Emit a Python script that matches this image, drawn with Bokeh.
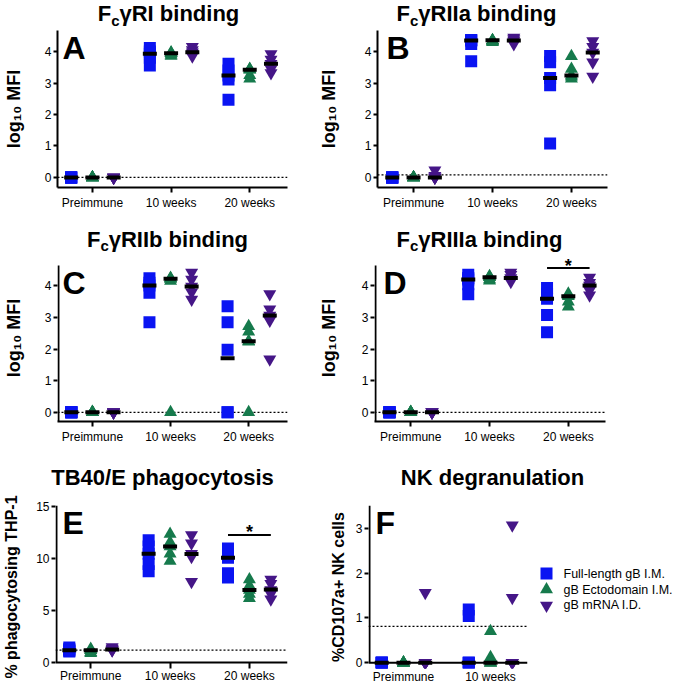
from bokeh.plotting import figure
from bokeh.layouts import row, column
from bokeh.models import Range1d, FixedTicker, Span, Label
from bokeh.core.properties import value
from bokeh.embed import file_html
from bokeh.resources import INLINE

FONT = "Liberation Sans"

timepoints = ["Preimmune", "10 weeks", "20 weeks"]
nk_timepoints = ["Preimmune", "10 weeks"]
groups = ["Full-length gB I.M.", "gB Ectodomain I.M.", "gB mRNA I.D."]
colors = ["#0a14f2", "#167a4c", "#451687"]
markers = ["square", "triangle", "inverted_triangle"]
marker_sizes = [12, 13, 13]

# A: FcγRI binding (log10 MFI), one list per time point
fcgr1_full = [[0, 0, 0, 0, 0], [4.11, 4.0, 3.93, 3.8, 3.56], [3.61, 3.4, 3.24, 3.11, 2.47]]
fcgr1_ecto = [[0, 0, 0, 0, 0], [3.97, 3.95, 3.95, 3.9, 3.86], [3.45, 3.43, 3.42, 3.25, 3.14]]
fcgr1_mrna = [[0, 0, 0, 0, 0], [4.15, 4.05, 3.98, 3.92, 3.85], [3.92, 3.75, 3.61, 3.45, 3.32]]
fcgr1_medians = [[0, 3.93, 3.24], [0, 3.95, 3.42], [0, 3.98, 3.61]]
fcgr1_cutoff = 0.0

# B: FcγRIIa binding
fcgr2a_full = [[0, 0, 0, 0, 0], [4.37, 4.36, 4.35, 4.24, 3.69], [3.86, 3.66, 3.16, 2.93, 1.08]]
fcgr2a_ecto = [[0, 0, 0, 0, 0], [4.36, 4.35, 4.35, 4.33, 4.3], [3.85, 3.45, 3.24, 3.2, 3.14]]
fcgr2a_mrna = [[0.23, 0.05, 0, 0, 0], [4.45, 4.4, 4.35, 4.3, 4.24], [4.34, 4.15, 3.97, 3.66, 3.21]]
fcgr2a_medians = [[0, 4.35, 3.16], [0, 4.36, 3.24], [0, 4.35, 3.97]]
fcgr2a_cutoff = 0.08

# C: FcγRIIb binding
fcgr2b_full = [[0, 0, 0, 0, 0], [4.24, 4.1, 4.01, 3.78, 2.85], [3.35, 2.85, 1.98, 0, 0]]
fcgr2b_ecto = [[0, 0, 0, 0, 0], [4.25, 4.22, 4.22, 4.15, 0], [2.72, 2.55, 2.25, 2.23, 0]]
fcgr2b_mrna = [[0, 0, 0, 0, 0], [4.42, 4.2, 3.98, 3.8, 3.57], [3.74, 3.26, 3.06, 2.9, 1.68]]
fcgr2b_medians = [[0, 4.01, 1.71], [0, 4.22, 2.25], [0, 3.98, 3.06]]
fcgr2b_cutoff = 0.0

# D: FcγRIIIa binding
fcgr3a_full = [[0, 0, 0, 0, 0], [4.35, 4.25, 4.2, 4.05, 3.73], [3.93, 3.75, 3.59, 3.08, 2.53]]
fcgr3a_ecto = [[0, 0, 0, 0, 0], [4.3, 4.28, 4.27, 4.2, 4.16], [3.75, 3.7, 3.67, 3.5, 3.34]]
fcgr3a_mrna = [[0, 0, 0, 0, 0], [4.42, 4.35, 4.25, 4.2, 4.13], [4.26, 4.1, 4.01, 3.85, 3.7]]
fcgr3a_medians = [[0, 4.2, 3.59], [0, 4.27, 3.67], [0, 4.25, 4.01]]
fcgr3a_cutoff = 0.0
fcgr3a_sig = (0, 2, 2, 4.56)  # group from, group to, time point index, bar height

# E: TB40/E phagocytosis (% phagocytosing THP-1)
phago_full = [[1.45, 1.3, 1.2, 1.15, 1.08], [11.8, 11.2, 10.5, 9.5, 8.8], [11.0, 10.4, 10.1, 8.6, 8.2]]
phago_ecto = [[1.3, 1.2, 1.2, 1.0, 0.9], [12.4, 11.6, 11.2, 10.5, 9.8], [8.0, 7.4, 7.0, 6.6, 6.2]]
phago_mrna = [[1.5, 1.35, 1.25, 1.22, 1.2], [12.3, 11.5, 10.5, 10.2, 7.8], [8.0, 7.6, 7.0, 6.6, 6.1]]
phago_medians = [[1.2, 10.5, 10.1], [1.2, 11.2, 7.0], [1.25, 10.47, 7.05]]
phago_cutoff = 1.2
phago_sig = (0, 2, 2, 12.3)

# F: NK degranulation (%CD107a+ NK cells)
nk_full = [[0, 0, 0, 0, 0], [1.19, 1.04, 0, 0, 0]]
nk_ecto = [[0, 0, 0, 0, 0], [0.7, 0.12, 0, 0, 0]]
nk_mrna = [[1.56, 0, 0, 0, 0], [3.07, 1.45, 0, 0, 0]]
nk_medians = [[0, 0], [0, 0], [0, 0]]
nk_cutoff = 0.81

BOLD_W = {' ': 0.278, '/': 0.278, '0': 0.556, '4': 0.556, 'B': 0.722, 'E': 0.667, 'F': 0.611,
          'I': 0.278, 'K': 0.722, 'N': 0.722, 'R': 0.722, 'T': 0.611, 'a': 0.556, 'b': 0.611,
          'c': 0.556, 'd': 0.611, 'e': 0.556, 'g': 0.611, 'h': 0.611, 'i': 0.278, 'l': 0.278,
          'n': 0.611, 'o': 0.611, 'p': 0.611, 'r': 0.389, 's': 0.556, 't': 0.333, 'u': 0.611,
          'y': 0.556, 'γ': 0.556}


def tw(s, size):
    return sum(BOLD_W.get(ch, 0.556) for ch in s) * size


def blank_fig(width, height):
    f = figure(width=width, height=height, x_range=Range1d(0, width), y_range=Range1d(height, 0),
               output_backend="svg", toolbar_location=None, min_border=0,
               x_axis_location=None, y_axis_location=None)
    f.title = None
    f.outline_line_color = None
    f.grid.visible = False
    f.background_fill_color = "white"
    f.border_fill_color = "white"
    return f


def title_fig(width, height, items):
    """items: (parts, centre_x, baseline_y); parts: (text, size, baseline shift)."""
    f = blank_fig(width, height)
    for parts, cx, base in items:
        total = sum(tw(t, s) for t, s, d in parts)
        cur = cx - total / 2
        for t, s, d in parts:
            f.add_layout(Label(x=cur, y=base + d - 0.35 * s, text=t, text_font=FONT,
                               text_font_style="bold", text_font_size=f"{s}px",
                               text_baseline="alphabetic", text_align="left",
                               text_color="black"))
            cur += tw(t, s)
    return f


def panel(cats, series, medians, cutoff, yr, yticks, ylabel, ylab_size, ylab_standoff, letter,
          width, height, borders, xr, offset, letter_dx, sig=None, y_line=None,
          zero_axis=False, xlab_standoff=3, xtick_out=5, xtick_in=0):
    left, right, top, bottom = borders
    p = figure(width=width, height=height, x_range=Range1d(*xr), y_range=Range1d(*yr),
               output_backend="svg", toolbar_location=None,
               min_border_left=left, min_border_right=right, min_border_top=top,
               min_border_bottom=bottom)
    p.title = None
    p.outline_line_color = None
    p.xgrid.visible = False
    p.ygrid.visible = False
    p.background_fill_color = "white"
    p.border_fill_color = "white"

    for ax in (p.xaxis[0], p.yaxis[0]):
        ax.axis_line_width = 2
        ax.axis_line_color = "black"
        ax.major_tick_line_width = 2
        ax.major_tick_line_color = "black"
        ax.minor_tick_line_color = None
        ax.major_tick_in = 0
        ax.major_label_text_font = FONT
        ax.major_label_text_font_size = "12px"
        ax.major_label_text_color = "black"
    xa = p.xaxis[0]
    xa.ticker = FixedTicker(ticks=[i + 1 for i in range(len(cats))])
    xa.major_label_overrides = {i + 1: c for i, c in enumerate(cats)}
    xa.major_tick_out = xtick_out
    xa.major_tick_in = xtick_in
    xa.major_label_standoff = xlab_standoff
    ya = p.yaxis[0]
    ya.ticker = FixedTicker(ticks=yticks)
    ya.major_tick_out = 4
    ya.major_label_standoff = 2
    ya.axis_label = ylabel
    ya.axis_label_text_font = FONT
    ya.axis_label_text_font_style = "bold"
    ya.axis_label_text_font_size = f"{ylab_size}px"
    ya.axis_label_text_color = "black"
    ya.axis_label_standoff = ylab_standoff

    top_val = yr[1]
    if y_line is not None:
        # the frame reaches beyond the drawn axis (room for a star / for points sitting on 0):
        # draw the y axis line only over its own extent
        y0, y1 = y_line
        top_val = y1
        ya.axis_line_color = None
        fw = width - left - right
        x_line = xr[0] + 1.0 * (xr[1] - xr[0]) / fw
        p.segment([x_line], [y0], [x_line], [y1], line_color="black", line_width=2)

    if zero_axis:
        xa.axis_line_color = None
        p.add_layout(Span(location=0, dimension="width", line_color="black", line_width=2))

    p.add_layout(Span(location=cutoff, dimension="width", line_color="black", line_width=1.2,
                      line_dash="2 2", level="underlay"))

    for gi in range(3):
        xs, ys = [], []
        for ti in range(len(cats)):
            for v in series[gi][ti]:
                xs.append(ti + 1 + (gi - 1) * offset)
                ys.append(v)
        p.scatter(xs, ys, marker=markers[gi], size=marker_sizes[gi], fill_color=colors[gi],
                  line_color=None)
    mx, my = [], []
    for gi in range(3):
        for ti in range(len(cats)):
            mx.append(ti + 1 + (gi - 1) * offset)
            my.append(medians[gi][ti])
    p.scatter(mx, my, marker="dash", size=14, line_color="black", line_width=4)

    if sig is not None:
        g0, g1, ti, yb = sig
        x0 = ti + 1 + (g0 - 1) * offset
        x1 = ti + 1 + (g1 - 1) * offset
        p.segment([x0], [yb], [x1], [yb], line_color="black", line_width=2)
        p.add_layout(Label(x=(x0 + x1) / 2, y=yb, text="*", text_align="center",
                           text_baseline="alphabetic", y_offset=2.5, text_font=FONT,
                           text_font_style="bold", text_font_size="18px", text_color="black"))

    p.add_layout(Label(x=xr[0], y=top_val, x_offset=letter_dx, y_offset=-17, text=letter,
                       text_font=FONT, text_font_style="bold", text_font_size="32px",
                       text_baseline="alphabetic", text_align="left", text_color="black"))
    return p


TS = 22   # title size
SS = 15   # subscript size


def fc_title(name, shift=4):
    return [("F", TS, 0), ("c", SS, shift), (name, TS, 0)]


# row 1
tA = title_fig(315, 29, [(fc_title("γRI binding"), 168, 21)])
tB = title_fig(360, 29, [(fc_title("γRIIa binding"), 161, 21)])
pa = panel(timepoints, [fcgr1_full, fcgr1_ecto, fcgr1_mrna], fcgr1_medians, fcgr1_cutoff,
           (-0.32, 4.67), [0, 1, 2, 3, 4], "log₁₀ MFI", 18, 18, "A",
           315, 196, (50, 28, 1, 38), (0.556, 3.48), 0.27, 5)
pb = panel(timepoints, [fcgr2a_full, fcgr2a_ecto, fcgr2a_mrna], fcgr2a_medians, fcgr2a_cutoff,
           (-0.32, 4.67), [0, 1, 2, 3, 4], "log₁₀ MFI", 18, 23, "B",
           360, 196, (56, 68, 1, 38), (0.543, 3.457), 0.27, 9)

# row 2 (frames reach a little above the axes so that the star above panel D fits)
tC = title_fig(315, 29, [(fc_title("γRIIb binding", 3), 167, 22)])
tD = title_fig(360, 29, [(fc_title("γRIIIa binding", 3), 164, 22)])
pc = panel(timepoints, [fcgr2b_full, fcgr2b_ecto, fcgr2b_mrna], fcgr2b_medians, fcgr2b_cutoff,
           (-0.29, 4.99), [0, 1, 2, 3, 4], "log₁₀ MFI", 18, 18, "C",
           315, 201, (50, 28, 0, 34), (0.553, 3.497), 0.27, 5, y_line=(-0.29, 4.64))
pd_ = panel(timepoints, [fcgr3a_full, fcgr3a_ecto, fcgr3a_mrna], fcgr3a_medians,
            fcgr3a_cutoff, (-0.29, 4.99), [0, 1, 2, 3, 4], "log₁₀ MFI", 18, 20, "D",
            360, 201, (54, 70, 0, 34), (0.54, 3.472), 0.27, 9, sig=fcgr3a_sig,
            y_line=(-0.29, 4.64))

# row 3 (x axis sits on 0; frames reach slightly below it)
tE = title_fig(315, 37, [([("TB40/E phagocytosis", TS, 0)], 162, 30)])
tF = title_fig(360, 37, [([("NK degranulation", TS, 0)], 177, 30)])
pe = panel(timepoints, [phago_full, phago_ecto, phago_mrna], phago_medians, phago_cutoff,
           (-0.57, 15.14), [0, 5, 10, 15], "% phagocytosing THP-1", 16, 13, "E",
           315, 194, (50, 28, 13, 16), (0.556, 3.48), 0.27, 7, sig=phago_sig,
           y_line=(0, 15.14), zero_axis=True, xlab_standoff=0, xtick_out=0, xtick_in=6)
pf = panel(nk_timepoints, [nk_full, nk_ecto, nk_mrna], nk_medians, nk_cutoff,
           (-0.13, 3.51), [0, 1, 2, 3], "%CD107a+ NK cells", 16, 6, "F",
           220, 194, (53, 8, 13, 16), (0.598, 2.425), 0.25, 7,
           y_line=(0, 3.51), zero_axis=True, xlab_standoff=1, xtick_out=0, xtick_in=0)

# legend (separate small canvas to the right of panel F)
leg = blank_fig(140, 194)
leg_x_marker = 11
leg_x_text = 28
leg_y = [81 + 19 * i for i in range(len(groups))]
for gi, g in enumerate(groups):
    leg.scatter([leg_x_marker], [leg_y[gi]], marker=markers[gi], size=marker_sizes[gi],
                fill_color=colors[gi], line_color=None)
leg.text([leg_x_text] * len(groups), leg_y, text=groups, text_font=value(FONT),
         text_font_size="12.5px", text_baseline="middle", text_align="left", text_color="black")

layout = column(row(tA, tB), row(pa, pb), row(tC, tD), row(pc, pd_), row(tE, tF),
                row(pe, pf, leg))

with open("out.html", "w") as f:
    f.write(file_html(layout, INLINE))
